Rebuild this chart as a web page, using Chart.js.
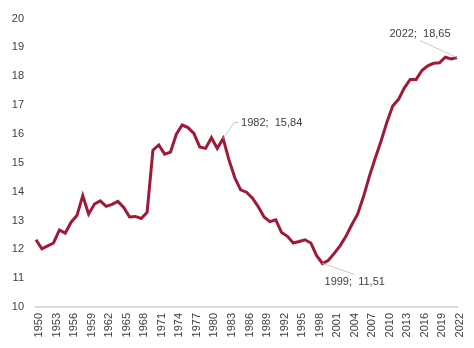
<!DOCTYPE html>
<html>
<head>
<meta charset="utf-8">
<script src="https://cdn.jsdelivr.net/npm/chart.js@4/dist/chart.umd.min.js"></script>
<style>
html,body{margin:0;padding:0;background:#fff;}
#wrap{width:474px;height:348px;position:relative;}
</style>
</head>
<body>
<div id="wrap"><canvas id="c" width="474" height="348"></canvas></div>
<script>
const years = [];
for (let y = 1950; y <= 2022; y++) years.push(String(y));

const values = [
  12.33, 12.02, 12.12, 12.22, 12.67, 12.56, 12.94, 13.17, 13.86, 13.22,
  13.57, 13.68, 13.49, 13.56, 13.66, 13.45, 13.12, 13.14, 13.07, 13.28,
  15.44, 15.62, 15.30, 15.37, 15.99, 16.31, 16.22, 16.02, 15.55, 15.50,
  15.87, 15.50, 15.84, 15.10, 14.48, 14.06, 13.98, 13.78, 13.48, 13.12,
  12.96, 13.02, 12.58, 12.45, 12.22, 12.27, 12.33, 12.22, 11.78, 11.51,
  11.62, 11.86, 12.12, 12.45, 12.85, 13.22, 13.82, 14.52, 15.15, 15.75,
  16.40, 16.97, 17.20, 17.60, 17.89, 17.89, 18.20, 18.36, 18.45, 18.47,
  18.66, 18.60, 18.65
];

const yTicks = [10, 11, 12, 13, 14, 15, 16, 17, 18, 19, 20];
const labelledYears = ['1982', '1999', '2022'];

const fmt = v => v.toFixed(2).replace('.', ',');

const annotPlugin = {
  id: 'annot',
  afterDatasetsDraw(chart) {
    const ctx = chart.ctx;
    const xs = chart.scales.x, ys = chart.scales.y;
    const place = {
      '1982': {line: [[11, -16], [15, -16]], tx: 18, ty: -16, align: 'left'},
      '1999': {line: [[32, 11]], tx: 2, ty: 19, align: 'left'},
      '2022': {line: [[-37, -17]], tx: -37, ty: -24, align: 'center'}
    };
    ctx.save();
    ctx.font = '11px "Liberation Sans", Arial, sans-serif';
    ctx.fillStyle = '#404040';
    ctx.textBaseline = 'middle';
    labelledYears.forEach(yr => {
      const i = years.indexOf(yr);
      const px = xs.getPixelForValue(i);
      const py = ys.getPixelForValue(values[i]);
      const p = place[yr];
      ctx.strokeStyle = '#c8c8c8';
      ctx.lineWidth = 1;
      ctx.beginPath();
      ctx.moveTo(px, py);
      p.line.forEach(([dx, dy]) => ctx.lineTo(px + dx, py + dy));
      ctx.stroke();
      ctx.textAlign = p.align;
      ctx.fillText(yr + ';  ' + fmt(values[i]), px + p.tx, py + p.ty);
    });
    ctx.restore();
  }
};

new Chart(document.getElementById('c'), {
  type: 'line',
  data: {
    labels: years,
    datasets: [{
      data: values,
      borderColor: '#a01a38',
      borderWidth: 3,
      pointRadius: 0,
      tension: 0,
      fill: false
    }]
  },
  options: {
    responsive: false,
    animation: false,
    devicePixelRatio: 1,
    layout: {padding: {top: 17, right: 17, left: 0, bottom: 0}},
    plugins: {legend: {display: false}, tooltip: {enabled: false}},
    scales: {
      x: {
        offset: false,
        grid: {display: false, drawTicks: false},
        border: {display: true, color: '#d9d9d9', width: 2},
        afterFit: s => { s.height = 41; s.paddingLeft = 0; s.paddingRight = 0; },
        ticks: {
          autoSkip: false,
          minRotation: 90,
          maxRotation: 90,
          padding: 6,
          labelOffset: 3,
          color: '#404040',
          font: {family: '"Liberation Sans", Arial, sans-serif', size: 11},
          callback: function (v, i) {
            const lab = years[i];
            return ((Number(lab) - 1950) % 3 === 0) ? lab : '';
          }
        }
      },
      y: {
        min: 10,
        max: 20,
        afterFit: s => { s.width = 36; },
        afterBuildTicks: s => { s.ticks = yTicks.map(v => ({value: v})); },
        grid: {display: false, drawTicks: false},
        border: {display: false},
        ticks: {
          padding: 12,
          color: '#404040',
          font: {family: '"Liberation Sans", Arial, sans-serif', size: 11}
        }
      }
    }
  },
  plugins: [annotPlugin]
});
</script>
</body>
</html>
